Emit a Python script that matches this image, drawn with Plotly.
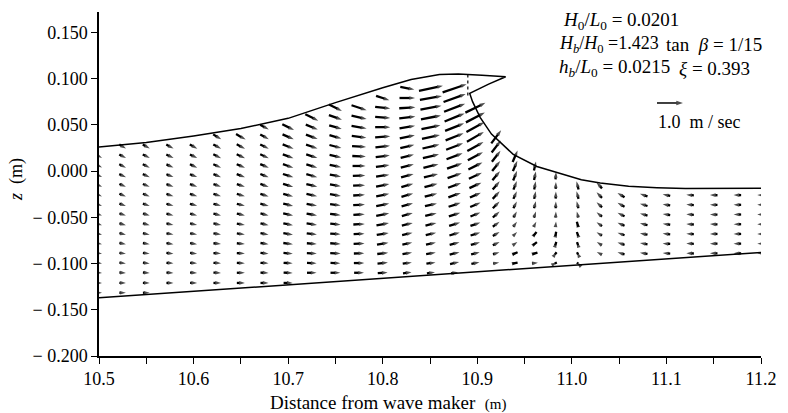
import plotly.graph_objects as go

# ---------------- data ----------------
# measuring columns (m from wave maker)
X_COLS = [10.500, 10.525, 10.550, 10.575, 10.600, 10.625, 10.650, 10.675, 10.700, 10.725,
          10.750, 10.775, 10.800, 10.826, 10.851, 10.876, 10.898, 10.920, 10.940, 10.961,
          10.983, 11.006, 11.029, 11.052, 11.076, 11.100, 11.125, 11.150, 11.175, 11.200]
# measuring levels z (m)
Z_ROWS = [-0.1316, -0.121, -0.110, -0.0995, -0.089, -0.0785, -0.068, -0.0575, -0.047, -0.0365,
          -0.026, -0.0155, -0.005, 0.0055, 0.016, 0.0265, 0.037, 0.0475, 0.058, 0.0685,
          0.079, 0.0895, 0.100]
# index of the lowest level measured in each column
K0 = [0, 0, 0, 1, 1, 1, 1, 1, 1, 2,
      2, 2, 2, 2, 2, 2, 3, 3, 3, 3,
      3, 3, 4, 4, 4, 4, 4, 4, 4, 4]
# horizontal velocity u (m/s), bottom -> top, per column
U = [
    [0.23, 0.23, 0.23, 0.23, 0.23, 0.23, 0.23, 0.23, 0.23, 0.23, 0.23, 0.24, 0.24, 0.24, 0.24],
    [0.25, 0.25, 0.25, 0.25, 0.25, 0.25, 0.25, 0.25, 0.25, 0.25, 0.25, 0.25, 0.26, 0.26, 0.26, 0.26],
    [0.26, 0.26, 0.26, 0.26, 0.26, 0.26, 0.26, 0.26, 0.26, 0.26, 0.26, 0.26, 0.27, 0.27, 0.27, 0.27],
    [0.27, 0.27, 0.27, 0.27, 0.27, 0.27, 0.27, 0.27, 0.27, 0.27, 0.27, 0.27, 0.27, 0.28, 0.28],
    [0.27, 0.27, 0.27, 0.27, 0.27, 0.27, 0.27, 0.27, 0.28, 0.28, 0.28, 0.28, 0.28, 0.28, 0.29],
    [0.29, 0.29, 0.29, 0.29, 0.29, 0.29, 0.29, 0.29, 0.29, 0.29, 0.29, 0.29, 0.30, 0.30, 0.30, 0.31],
    [0.31, 0.31, 0.31, 0.31, 0.31, 0.31, 0.31, 0.31, 0.31, 0.31, 0.31, 0.32, 0.32, 0.32, 0.32, 0.37],
    [0.31, 0.31, 0.31, 0.31, 0.31, 0.31, 0.31, 0.31, 0.32, 0.32, 0.32, 0.32, 0.33, 0.33, 0.33, 0.33, 0.33],
    [0.35, 0.35, 0.35, 0.36, 0.37, 0.37, 0.37, 0.38, 0.38, 0.38, 0.39, 0.40, 0.40, 0.41, 0.42, 0.43, 0.45],
    [0.37, 0.37, 0.38, 0.38, 0.39, 0.40, 0.40, 0.40, 0.41, 0.42, 0.42, 0.42, 0.43, 0.44, 0.45, 0.46, 0.50],
    [0.38, 0.38, 0.40, 0.40, 0.40, 0.40, 0.41, 0.41, 0.42, 0.42, 0.43, 0.44, 0.45, 0.46, 0.46, 0.48, 0.50, 0.50],
    [0.38, 0.40, 0.40, 0.42, 0.42, 0.44, 0.44, 0.45, 0.45, 0.46, 0.48, 0.50, 0.52, 0.54, 0.56, 0.58, 0.58, 0.58],
    [0.38, 0.40, 0.42, 0.44, 0.46, 0.48, 0.50, 0.50, 0.50, 0.51, 0.51, 0.52, 0.54, 0.56, 0.58, 0.58, 0.58, 0.58, 0.51],
    [0.33, 0.35, 0.37, 0.38, 0.40, 0.42, 0.42, 0.44, 0.45, 0.46, 0.48, 0.50, 0.51, 0.54, 0.58, 0.60, 0.62, 0.62, 0.60, 0.54],
    [0.31, 0.35, 0.37, 0.38, 0.40, 0.42, 0.44, 0.46, 0.48, 0.50, 0.54, 0.58, 0.62, 0.65, 0.69, 0.73, 0.77, 0.81, 0.85, 0.92],
    [0.27, 0.35, 0.38, 0.38, 0.40, 0.42, 0.44, 0.46, 0.48, 0.50, 0.54, 0.58, 0.62, 0.65, 0.69, 0.73, 0.77, 0.81, 0.85, 0.92],
    [0.31, 0.33, 0.35, 0.37, 0.38, 0.38, 0.40, 0.42, 0.46, 0.50, 0.54, 0.58, 0.62, 0.65, 0.69, 0.73, 0.77],
    [0.23, 0.25, 0.26, 0.26, 0.26, 0.26, 0.26, 0.27, 0.27, 0.29, 0.31, 0.33, 0.35, 0.38],
    [0.19, 0.19, 0.17, 0.15, 0.14, 0.13, 0.13, 0.13, 0.13, 0.15, 0.17, 0.19],
    [0.23, 0.19, 0.15, 0.12, 0.10, 0.08, 0.07, 0.06, 0.06, 0.07, 0.08],
    [0.08, 0.06, 0.04, 0.03, 0.02, 0.01, 0.01, 0.01, 0.01, 0.02],
    [-0.04, -0.04, -0.04, -0.05, -0.05, -0.06, -0.07, -0.08, -0.08],
    [-0.19, -0.19, -0.21, -0.21, -0.21, -0.21, -0.21, -0.21],
    [-0.27, -0.27, -0.27, -0.27, -0.27, -0.27, -0.27],
    [-0.29, -0.29, -0.29, -0.29, -0.29, -0.29, -0.29],
    [-0.29, -0.29, -0.29, -0.29, -0.29, -0.29, -0.29],
    [-0.29, -0.29, -0.29, -0.29, -0.29, -0.29, -0.29],
    [-0.29, -0.29, -0.29, -0.29, -0.29, -0.29, -0.29],
    [-0.29, -0.29, -0.29, -0.29, -0.29, -0.29, -0.29],
    [-0.29, -0.29, -0.29, -0.29, -0.29, -0.29, -0.29],
]
# vertical velocity w (m/s), bottom -> top, per column
W = [
    [0.0, -0.01, -0.02, -0.03, -0.04, -0.05, -0.06, -0.07, -0.08, -0.09, -0.10, -0.11, -0.11, -0.12, -0.13],
    [0.0, -0.01, -0.02, -0.03, -0.04, -0.05, -0.06, -0.07, -0.08, -0.09, -0.10, -0.11, -0.12, -0.13, -0.14, -0.15],
    [0.0, -0.01, -0.02, -0.03, -0.04, -0.05, -0.06, -0.07, -0.08, -0.09, -0.10, -0.11, -0.12, -0.13, -0.14, -0.15],
    [0.0, -0.01, -0.02, -0.03, -0.04, -0.05, -0.06, -0.07, -0.08, -0.09, -0.10, -0.11, -0.12, -0.13, -0.15],
    [0.0, -0.01, -0.02, -0.03, -0.04, -0.05, -0.06, -0.07, -0.08, -0.09, -0.10, -0.11, -0.13, -0.14, -0.16],
    [0.0, -0.01, -0.02, -0.02, -0.03, -0.05, -0.06, -0.07, -0.08, -0.09, -0.10, -0.12, -0.13, -0.15, -0.16, -0.19],
    [0.0, 0.0, -0.01, -0.02, -0.03, -0.04, -0.05, -0.07, -0.08, -0.09, -0.10, -0.12, -0.13, -0.15, -0.17, -0.21],
    [0.0, -0.01, -0.02, -0.03, -0.05, -0.06, -0.07, -0.08, -0.09, -0.10, -0.12, -0.13, -0.14, -0.15, -0.16, -0.18, -0.19],
    [0.0, -0.01, -0.02, -0.03, -0.05, -0.06, -0.07, -0.08, -0.09, -0.10, -0.12, -0.13, -0.14, -0.15, -0.17, -0.19, -0.22],
    [0.0, -0.01, -0.02, -0.03, -0.05, -0.06, -0.07, -0.08, -0.09, -0.10, -0.12, -0.13, -0.14, -0.15, -0.17, -0.19, -0.25],
    [0.0, -0.01, -0.02, -0.03, -0.03, -0.04, -0.05, -0.06, -0.07, -0.07, -0.08, -0.09, -0.10, -0.12, -0.13, -0.14, -0.17, -0.25],
    [0.0, 0.0, 0.01, 0.01, 0.02, 0.02, 0.03, 0.03, 0.03, 0.02, 0.01, 0.0, -0.02, -0.04, -0.07, -0.10, -0.13, -0.19],
    [0.03, 0.04, 0.05, 0.07, 0.08, 0.09, 0.10, 0.10, 0.10, 0.10, 0.08, 0.07, 0.07, 0.06, 0.04, 0.0, -0.04, -0.07, -0.17],
    [0.04, 0.05, 0.06, 0.08, 0.09, 0.10, 0.12, 0.12, 0.13, 0.13, 0.13, 0.13, 0.13, 0.13, 0.12, 0.10, 0.08, 0.04, 0.0, -0.10],
    [0.04, 0.05, 0.06, 0.08, 0.09, 0.10, 0.10, 0.11, 0.12, 0.13, 0.13, 0.14, 0.15, 0.15, 0.15, 0.15, 0.15, 0.15, 0.15, 0.19],
    [0.04, 0.08, 0.09, 0.10, 0.12, 0.13, 0.14, 0.15, 0.17, 0.18, 0.19, 0.21, 0.23, 0.25, 0.27, 0.29, 0.31, 0.31, 0.31, 0.31],
    [0.06, 0.08, 0.10, 0.12, 0.13, 0.15, 0.17, 0.19, 0.21, 0.23, 0.27, 0.31, 0.35, 0.38, 0.38, 0.38, 0.38],
    [0.04, 0.08, 0.12, 0.15, 0.19, 0.23, 0.26, 0.29, 0.31, 0.35, 0.38, 0.42, 0.46, 0.50],
    [0.04, 0.08, 0.12, 0.15, 0.19, 0.23, 0.26, 0.29, 0.33, 0.37, 0.40, 0.44],
    [0.02, 0.06, 0.12, 0.15, 0.19, 0.23, 0.27, 0.29, 0.31, 0.33, 0.35],
    [0.04, 0.08, 0.13, 0.17, 0.21, 0.23, 0.26, 0.27, 0.27, 0.29],
    [0.04, 0.08, 0.12, 0.15, 0.19, 0.23, 0.27, 0.29, 0.31],
    [0.10, 0.12, 0.13, 0.15, 0.17, 0.19, 0.21, 0.23],
    [0.08, 0.09, 0.10, 0.12, 0.13, 0.15, 0.17],
    [0.04, 0.05, 0.06, 0.07, 0.08, 0.09, 0.10],
    [0.02, 0.02, 0.03, 0.04, 0.04, 0.05, 0.06],
    [0.01, 0.01, 0.01, 0.02, 0.02, 0.02, 0.02],
    [0.0, 0.0, 0.0, 0.01, 0.01, 0.01, 0.01],
    [0.0, 0.0, 0.0, 0.0, 0.0, 0.0, 0.0],
    [0.0, 0.0, 0.0, 0.0, 0.0, 0.0, 0.0],
]

# free surface profile (m)
SURF_X = [10.500, 10.550, 10.600, 10.650, 10.700, 10.750, 10.800, 10.830, 10.860, 10.880,
          10.905, 10.930, 10.912, 10.892, 10.895, 10.903, 10.915, 10.938, 10.963, 10.985,
          11.010, 11.030, 11.060, 11.090, 11.120, 11.200]
SURF_Z = [0.026, 0.031, 0.038, 0.046, 0.057, 0.074, 0.090, 0.099, 0.1045, 0.105,
          0.1035, 0.102, 0.094, 0.084, 0.075, 0.058, 0.040, 0.018, 0.005, -0.002,
          -0.0095, -0.013, -0.0165, -0.018, -0.019, -0.0185]
# dotted line below the overturning crest
LIP_X = [10.890, 10.890]
LIP_Z = [0.1045, 0.080]
# sloping bed (tan beta = 1/15)
BED_X = [10.500, 11.200]
BED_Z = [-0.137, -0.088]

REF_SPEED = 1.0          # reference vector, m/s
REF_POS = (11.090, 0.0736)

X_TICKS = [10.5, 10.6, 10.7, 10.8, 10.9, 11.0, 11.1, 11.2]
X_TICKTEXT = ["10.5", "10.6", "10.7", "10.8", "10.9", "11.0", "11.1", "11.2"]
Y_TICKS = [-0.2, -0.15, -0.1, -0.05, 0.0, 0.05, 0.10, 0.15]
Y_TICKTEXT = ["\u2212 0.200", "\u2212 0.150", "\u2212 0.100", "\u2212 0.050",
              "0.000", "0.050", "0.100", "0.150"]

# ---------------- layout geometry ----------------
W_PX, H_PX = 788, 413
ML, MR, MT, MB = 99, 27, 12, 57
X_RANGE = [10.5, 11.2]
Y_RANGE = [-0.2, 0.172]
PX_X = (W_PX - ML - MR) / (X_RANGE[1] - X_RANGE[0])
PX_Y = (H_PX - MT - MB) / (Y_RANGE[1] - Y_RANGE[0])
PX_PER_MS = 26.0   # drawn length of a 1 m/s vector, in pixels

FONT = "Liberation Serif"


def add_arrow(xs, ys, ss, xc, zc, u, w, centered=True, head=6):
    dx = u * PX_PER_MS / PX_X
    dz = w * PX_PER_MS / PX_Y
    if centered:
        x0, z0 = xc - dx / 2, zc - dz / 2
    else:
        x0, z0 = xc, zc
    xs += [x0, x0 + dx, None]
    ys += [z0, z0 + dz, None]
    ss += [0, head, 0]


fx, fy, fs = [], [], []
for i, xc in enumerate(X_COLS):
    for j, (u, w) in enumerate(zip(U[i], W[i])):
        add_arrow(fx, fy, fs, xc, Z_ROWS[K0[i] + j], u, w)

rx, ry, rs = [], [], []
add_arrow(rx, ry, rs, REF_POS[0], REF_POS[1], REF_SPEED, 0.0, centered=False, head=7)

fig = go.Figure()
fig.add_trace(go.Scatter(x=SURF_X, y=SURF_Z, mode="lines",
                         line=dict(color="black", width=1.5), hoverinfo="skip"))
fig.add_trace(go.Scatter(x=LIP_X, y=LIP_Z, mode="lines",
                         line=dict(color="black", width=1.2, dash="dot"), hoverinfo="skip"))
fig.add_trace(go.Scatter(x=BED_X, y=BED_Z, mode="lines",
                         line=dict(color="black", width=1.5), hoverinfo="skip"))
fig.add_trace(go.Scatter(x=fx, y=fy, mode="lines+markers",
                         line=dict(color="black", width=2.3),
                         marker=dict(symbol="arrow", size=fs, angleref="previous",
                                     color="black", line=dict(width=0)),
                         hoverinfo="skip"))
fig.add_trace(go.Scatter(x=rx, y=ry, mode="lines+markers",
                         line=dict(color="black", width=1.5),
                         marker=dict(symbol="arrow", size=rs, angleref="previous",
                                     color="black", line=dict(width=0)),
                         hoverinfo="skip"))

TICKFONT = dict(family=FONT, size=18, color="black")
axis_common = dict(showline=True, linecolor="black", linewidth=1.5, showgrid=False,
                   zeroline=False, ticks="outside", ticklen=6, tickwidth=1.3,
                   tickcolor="black", tickfont=TICKFONT)

fig.update_layout(
    width=W_PX, height=H_PX,
    margin=dict(l=ML, r=MR, t=MT, b=MB),
    paper_bgcolor="white", plot_bgcolor="white",
    showlegend=False,
    xaxis=dict(range=X_RANGE, tickvals=X_TICKS, ticktext=X_TICKTEXT,
               minor=dict(ticks="outside", dtick=0.05, tick0=10.5, ticklen=6,
                          tickcolor="black", tickwidth=1.3),
               **axis_common),
    yaxis=dict(range=Y_RANGE, tickvals=Y_TICKS, ticktext=Y_TICKTEXT, **axis_common),
    font=dict(family=FONT, size=18, color="black"),
)

NB = "&nbsp;"
annotations = [
    dict(x=388, y=402,
         text="Distance" + NB + "from" + NB + "wave" + NB + "maker" + NB + NB +
              "<span style='font-size:15px'>(m)</span>",
         size=19),
    dict(x=16, y=180, text="<i>z</i>" + NB + NB + "(m)", textangle=-90, size=18),
]
for a in annotations:
    fig.add_annotation(xref="paper", yref="paper",
                       x=(a["x"] - ML) / (W_PX - ML - MR),
                       y=1 - (a["y"] - MT) / (H_PX - MT - MB),
                       text=a["text"], showarrow=False,
                       font=dict(family=FONT, size=a["size"], color="black"),
                       textangle=a.get("textangle", 0),
                       xanchor="center", yanchor="middle")

texts = [
    (561, 21, "<i>H</i><sub>0</sub>/<i>L</i><sub>0</sub>" + NB + "=" + NB + "0.0201", 19),
    (557, 45, "<i>H<sub>b</sub></i>/<i>H</i><sub>0</sub>" + NB + "=1.423", 18),
    (664, 45, "tan" + NB + NB + "<i>\u03b2</i>" + NB + "=" + NB + "1/15", 19),
    (557, 68, "<i>h<sub>b</sub></i>/<i>L</i><sub>0</sub>" + NB + "=" + NB + "0.0215", 19),
    (677, 68, "<i>\u03be</i>" + NB + "=" + NB + "0.393", 19),
    (656, 122, "1.0" + NB + NB + "m" + NB + "/" + NB + "sec", 18),
]
for (px, py, t, sz) in texts:
    fig.add_annotation(xref="paper", yref="paper",
                       x=(px - ML) / (W_PX - ML - MR),
                       y=1 - (py - MT) / (H_PX - MT - MB),
                       text=t, showarrow=False,
                       font=dict(family=FONT, size=sz, color="black"),
                       xanchor="left", yanchor="middle")

fig.write_html("out.html")
